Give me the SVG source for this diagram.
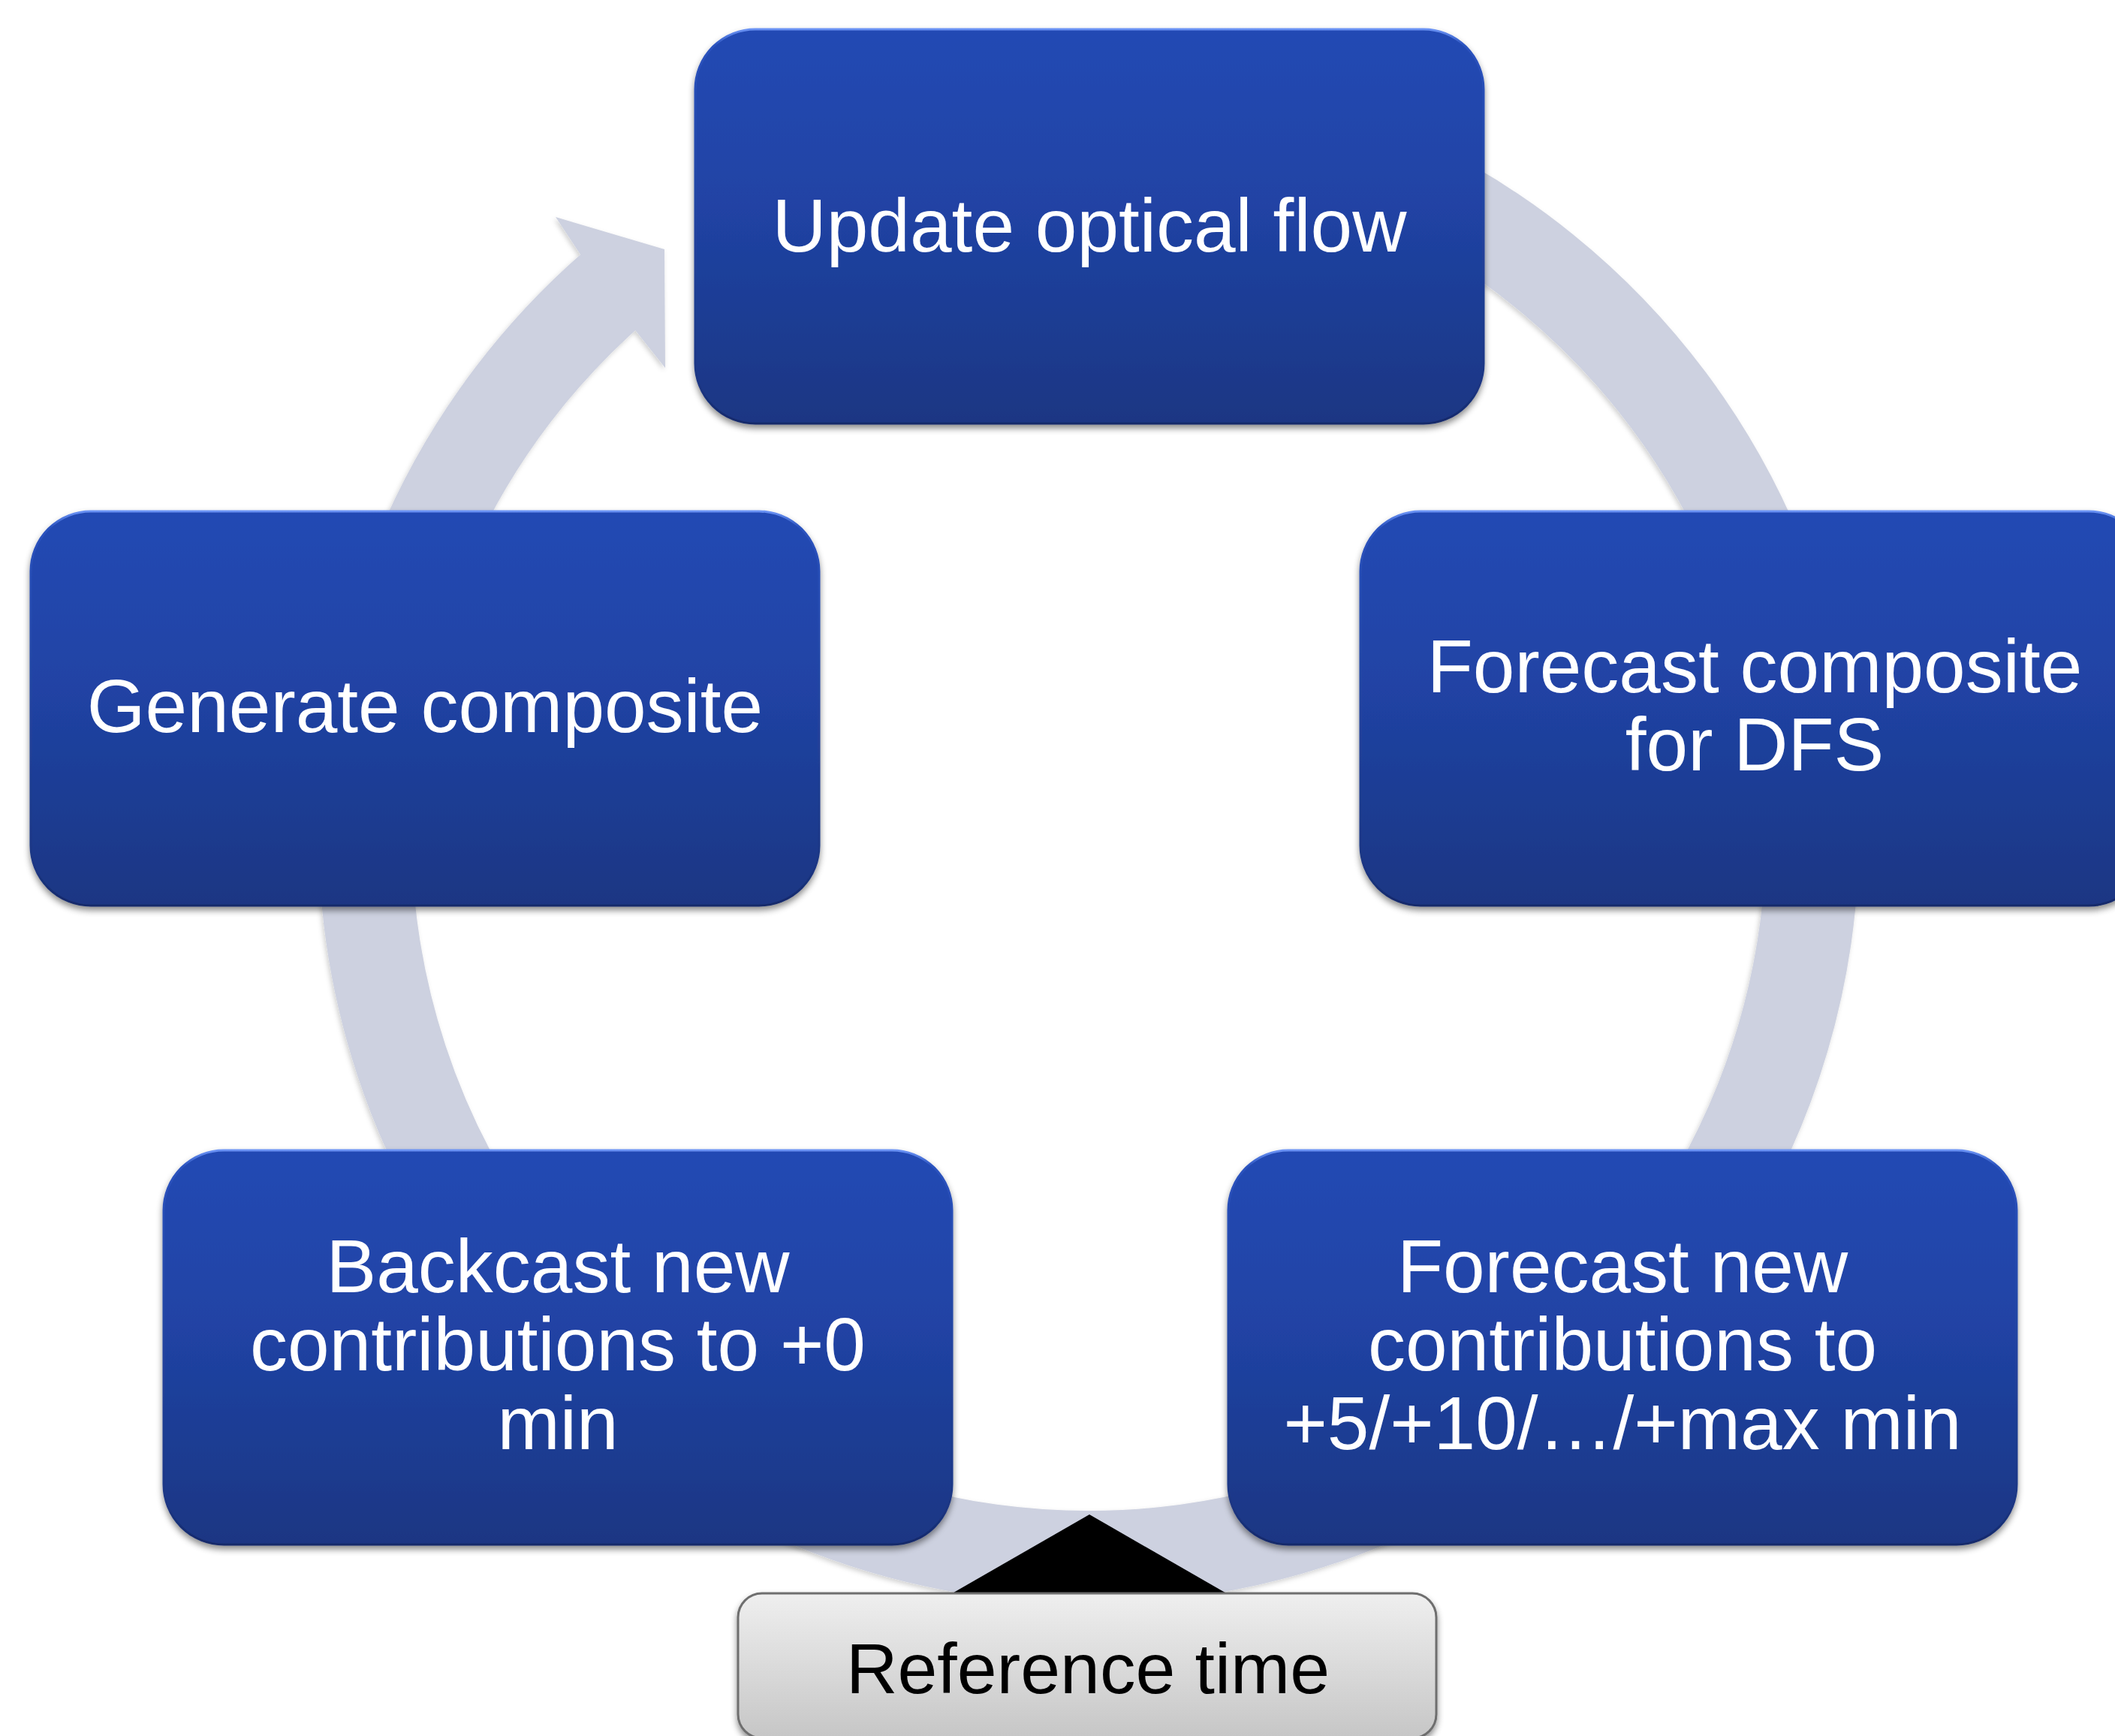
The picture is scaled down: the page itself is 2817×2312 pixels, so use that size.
<svg xmlns="http://www.w3.org/2000/svg" width="2817" height="2312" viewBox="0 0 2817 2312">
  <defs>
    <linearGradient id="boxFill" x1="0" y1="0" x2="0" y2="1">
      <stop offset="0" stop-color="#2249B4"/>
      <stop offset="0.45" stop-color="#2043A4"/>
      <stop offset="1" stop-color="#1B3683"/>
    </linearGradient>
    <linearGradient id="boxEdge" x1="0" y1="0" x2="0" y2="1">
      <stop offset="0" stop-color="#6A92F4"/>
      <stop offset="0.04" stop-color="#2A52BE"/>
      <stop offset="0.9" stop-color="#1B3683"/>
      <stop offset="1" stop-color="#15296A"/>
    </linearGradient>
    <linearGradient id="refFill" x1="0" y1="0" x2="0" y2="1">
      <stop offset="0" stop-color="#EFEFEF"/>
      <stop offset="1" stop-color="#C6C6C6"/>
    </linearGradient>
    <filter id="boxShadow" x="-5%" y="-5%" width="110%" height="115%">
      <feDropShadow dx="0" dy="5" stdDeviation="4" flood-color="#000" flood-opacity="0.45"/>
    </filter>
    <filter id="ringShadow" x="-5%" y="-5%" width="110%" height="110%">
      <feDropShadow dx="-2" dy="3" stdDeviation="3" flood-color="#000" flood-opacity="0.18"/>
    </filter>
  </defs>
  <style>
    .box { fill: url(#boxFill); stroke: url(#boxEdge); stroke-width: 3; filter: url(#boxShadow); }
    .label { font-family: "Liberation Sans", Arial, sans-serif; font-size: 100px; fill: #FFFFFF; text-anchor: middle; }
    .ring { fill: none; stroke: #CDD1E0; stroke-width: 124; }
    .head { fill: #CDD1E0; }
    .ref { fill: url(#refFill); stroke: #6E6E6E; stroke-width: 3; filter: url(#boxShadow); }
    .refLabel { font-family: "Liberation Sans", Arial, sans-serif; font-size: 95px; fill: #000000; text-anchor: middle; }
  </style>

  <rect width="2817" height="2312" fill="#FFFFFF"/>

  <!-- circular flow arrow running clockwise behind the steps -->
  <g id="connectors" filter="url(#ringShadow)">
    <path class="ring" d="M 1450 146 A 964 964 0 1 1 821.4 379.2"/>
    <polygon class="head" points="775,342 740,289 885,332 886,490 847,441"/>
  </g>

  <g id="node-update-flow">
    <rect class="box" x="926" y="39" width="1050" height="525" rx="80" ry="80"/>
    <text class="label" x="1451" y="335">Update optical flow</text>
  </g>

  <g id="node-forecast-dfs">
    <rect class="box" x="1812" y="681" width="1050" height="525" rx="80" ry="80"/>
    <text class="label" x="2337" y="922">Forecast composite</text>
    <text class="label" x="2337" y="1026">for DFS</text>
  </g>

  <g id="node-forecast-new">
    <rect class="box" x="1636" y="1532" width="1050" height="525" rx="80" ry="80"/>
    <text class="label" x="2161" y="1721">Forecast new</text>
    <text class="label" x="2161" y="1825">contributions to</text>
    <text class="label" x="2161" y="1930">+5/+10/…/+max min</text>
  </g>

  <g id="node-backcast">
    <rect class="box" x="218" y="1532" width="1050" height="525" rx="80" ry="80"/>
    <text class="label" x="743" y="1721">Backcast new</text>
    <text class="label" x="743" y="1825">contributions to +0</text>
    <text class="label" x="743" y="1930">min</text>
  </g>

  <g id="node-generate">
    <rect class="box" x="41" y="681" width="1050" height="525" rx="80" ry="80"/>
    <text class="label" x="566" y="975">Generate composite</text>
  </g>

  <!-- pointer marking the reference time on the cycle -->
  <g id="node-reference-time">
    <polygon points="1451,2017 1637,2124 1265,2124" fill="#000000"/>
    <rect class="ref" x="983" y="2122" width="930" height="193" rx="32" ry="32"/>
    <text class="refLabel" x="1449" y="2255">Reference time</text>
  </g>
</svg>
